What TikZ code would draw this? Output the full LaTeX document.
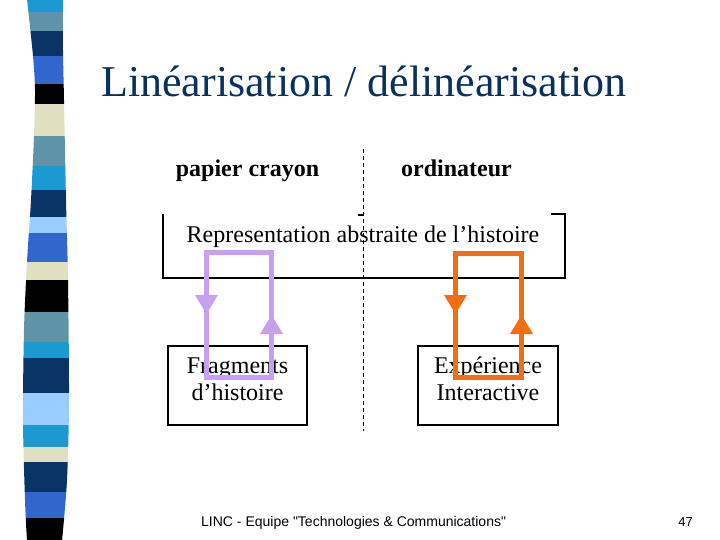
\documentclass[tikz,border=0pt]{standalone}
\usepackage{fontspec}
\setmainfont{Liberation Serif}
\newfontfamily\arialfont{Liberation Sans}
\definecolor{scyan}{RGB}{26,154,208}
\definecolor{ssteel}{RGB}{95,147,168}
\definecolor{snavy}{RGB}{10,51,102}
\definecolor{sroyal}{RGB}{51,102,204}
\definecolor{sbeige}{RGB}{224,224,192}
\definecolor{slight}{RGB}{153,204,255}
\definecolor{titleblue}{RGB}{10,48,96}
\definecolor{lilac}{RGB}{200,160,240}
\definecolor{orangeloop}{RGB}{240,110,20}
\begin{document}
\begin{tikzpicture}[x=1pt,y=-1pt,
  boxline/.style={line width=1.1pt,black},
  lbl/.style={anchor=base,inner sep=0pt,font=\fontsize{24}{24}\selectfont},
  loopline/.style={line width=5pt,line join=miter}]
\useasboundingbox (0,0) rectangle (720,540);
% striped bar
\begin{scope}
\clip plot[smooth] coordinates {(27,-1)(33,56)(35,90)(34,136)(31,200)(27,262)(24,330)(23,420)(25,500)(27,541)}
  -- plot[smooth] coordinates {(62,541)(67,480)(69,400)(68,280)(66,200)(64,100)(63,50)(63,-1)} -- cycle;
\foreach \ya/\yb/\c in {0/12/scyan,12/31/ssteel,31/56/snavy,56/84/sroyal,84/104/black,104/136/sbeige,136/166/ssteel,166/190/scyan,190/217/snavy,217/233/slight,233/262/sroyal,262/280/sbeige,280/312/black,312/342/ssteel,342/358/scyan,358/393/snavy,393/425/slight,425/447/scyan,447/462/sbeige,462/492/snavy,492/518/sroyal,518/541/black}
  \fill[\c] (0,\ya-0.3) rectangle (80,\yb+0.3);
\end{scope}
% title
\node[anchor=base west,inner sep=0pt,text=titleblue,font=\fontsize{44}{44}\selectfont] (title) at (101,97) {Linéarisation / délinéarisation};
% column labels
\node[lbl,font=\bfseries\fontsize{24}{24}\selectfont] (pc) at (247.5,177) {papier crayon};
\node[lbl,font=\bfseries\fontsize{24}{24}\selectfont] (ord) at (456.5,177) {ordinateur};
% top box
\coordinate (tl) at (163,214);
\coordinate (tr) at (565,214);
\coordinate (bl) at (163,278);
\coordinate (br) at (565,278);
\draw[boxline] (tl) -- (bl) -- (br) -- (tr) -- (551,214);
\draw[boxline] (358,215) -- (363,215);
\node[lbl] (repr) at (363,242) {Representation abstraite de l’histoire};
% bottom boxes
\node[draw,boxline,minimum width=139pt,minimum height=79pt,inner sep=0pt] (frag) at (237.5,385.5) {};
\node[lbl] (f1) at (237.5,373) {Fragments};
\node[lbl] (f2) at (237.5,400) {d’histoire};
\node[draw,boxline,minimum width=140pt,minimum height=79pt,inner sep=0pt] (exp) at (488,385.5) {};
\node[lbl] (e1) at (488,373) {Expérience};
\node[lbl] (e2) at (488,400) {Interactive};
% dashed divider
\coordinate (dtop) at (363,149);
\coordinate (dbot) at (363,431);
\draw[line width=1pt,dash pattern=on 4pt off 3pt] (dtop) -- (dbot);
% purple loop
\draw[loopline,lilac] (206,252) rectangle (271,377);
\fill[lilac] (195,295) -- (218,295) -- (206.5,314) -- cycle;
\fill[lilac] (260,334) -- (283,334) -- (271.5,315) -- cycle;
% orange loop
\draw[loopline,orangeloop] (455,253) rectangle (521,377);
\fill[orangeloop] (444,295) -- (467,295) -- (455.5,314) -- cycle;
\fill[orangeloop] (510,334) -- (533,334) -- (521.5,315) -- cycle;
% footer
\node[anchor=base west,inner sep=0pt,font=\arialfont\fontsize{14}{14}\selectfont] (foot) at (201,526) {LINC - Equipe "Technologies \& Communications"};
\node[anchor=base east,inner sep=0pt,font=\arialfont\fontsize{13}{13}\selectfont] (pg) at (693,526) {47};
\end{tikzpicture}
\end{document}
